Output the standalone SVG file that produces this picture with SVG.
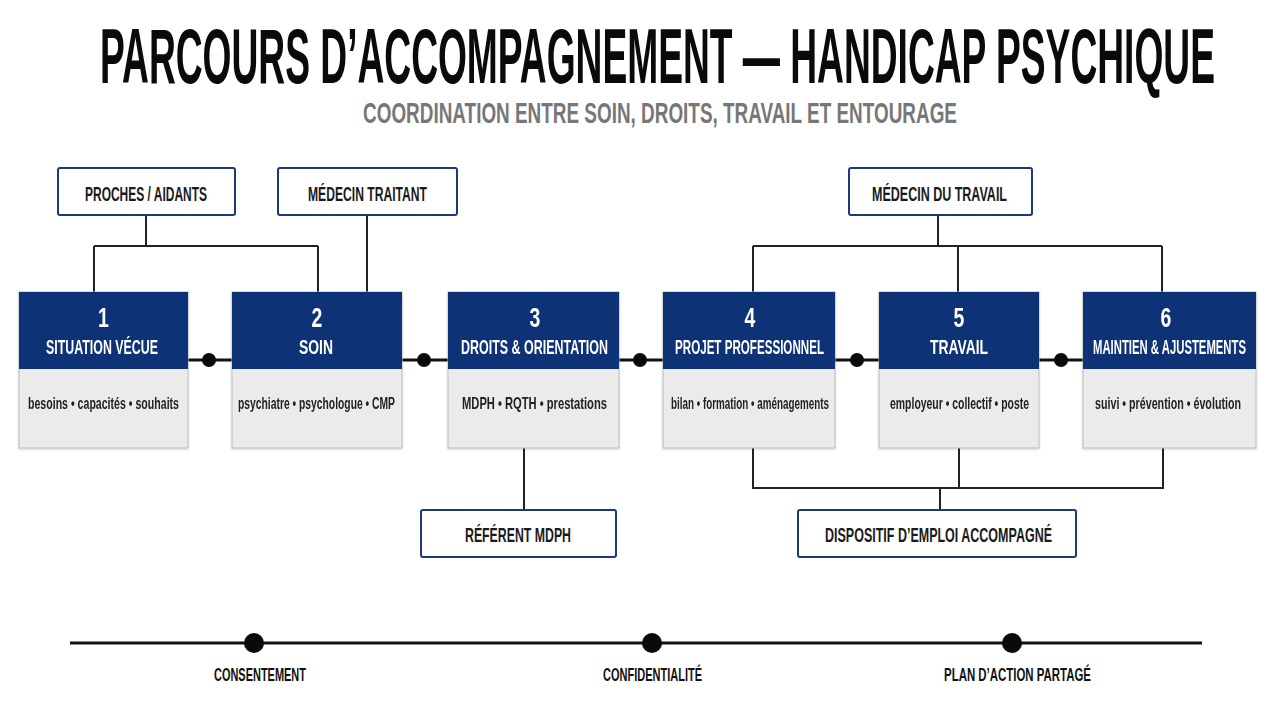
<svg xmlns="http://www.w3.org/2000/svg" width="1280" height="720" viewBox="0 0 1280 720">
<defs>
<filter id="sh" x="-10%" y="-10%" width="120%" height="130%">
<feDropShadow dx="0" dy="1" stdDeviation="1.2" flood-color="#000" flood-opacity="0.18"/>
</filter>
<style>
text{font-family:"Liberation Sans","DejaVu Sans",Arial,sans-serif;font-weight:bold;text-anchor:middle}
.title{font-size:78px;fill:#0a0a0a}
.sub{font-size:29px;fill:#777}
.lbl{font-size:21px;fill:#1a1a1a}
.num{font-size:27px;fill:#fff}
.ntitle{font-size:21px;fill:#fff}
.body{font-size:16px;fill:#222}
.tl{font-size:19px;fill:#111}
.box{fill:#fff;stroke:#1b3a7a;stroke-width:2}
.hdr{fill:#0c3276}
.bd{fill:#ebebeb;stroke:#bcbcbc;stroke-width:1}
.ln{fill:none;stroke:#222;stroke-width:2}
.mln{fill:none;stroke:#111;stroke-width:3}
.dot{fill:#0a0a0a}
</style>
</defs>
<rect width="1280" height="720" fill="#fff"/>

<g id="header">
<text class="title" transform="translate(657.5 83) scale(0.474 1)" textLength="2352" lengthAdjust="spacingAndGlyphs">PARCOURS D’ACCOMPAGNEMENT — HANDICAP PSYCHIQUE</text>
<text class="sub" transform="translate(660 123) scale(0.647 1)" textLength="918" lengthAdjust="spacingAndGlyphs">COORDINATION ENTRE SOIN, DROITS, TRAVAIL ET ENTOURAGE</text>
</g>

<g id="connectors">
<path class="ln" d="M146 215V246M94 246H318M94 246V292M318 246V292"/>
<path class="ln" d="M367 215V292"/>
<path class="ln" d="M938 215V246M753 246H1162M753 246V292M958 246V292M1162 246V292"/>
<path class="ln" d="M524 448V510"/>
<path class="ln" d="M753 448V488H1163V448M959 448V488M940 488V510"/>
<path class="mln" d="M188 360H232M402 360H448M619 360H663M835 360H879M1039 360H1083"/>
<circle class="dot" cx="209" cy="360" r="7"/>
<circle class="dot" cx="424" cy="360" r="7"/>
<circle class="dot" cx="640" cy="360" r="7"/>
<circle class="dot" cx="857" cy="360" r="7"/>
<circle class="dot" cx="1061" cy="360" r="7"/>
</g>

<g id="proches">
<rect class="box" x="58" y="168" width="177" height="47" rx="2"/>
<text class="lbl" transform="translate(146 201) scale(0.568 1)" textLength="214.8" lengthAdjust="spacingAndGlyphs">PROCHES / AIDANTS</text>
</g>
<g id="medecin-traitant">
<rect class="box" x="278" y="168" width="179" height="47" rx="2"/>
<text class="lbl" transform="translate(367.5 201) scale(0.573 1)" textLength="207.7" lengthAdjust="spacingAndGlyphs">MÉDECIN TRAITANT</text>
</g>
<g id="medecin-travail">
<rect class="box" x="849" y="168" width="183" height="47" rx="2"/>
<text class="lbl" transform="translate(939.5 201) scale(0.587 1)" textLength="230" lengthAdjust="spacingAndGlyphs">MÉDECIN DU TRAVAIL</text>
</g>

<g id="n1" filter="url(#sh)">
<rect class="bd" x="19" y="292" width="169" height="156"/>
<rect class="hdr" x="19" y="292" width="169" height="77"/>
<text class="num" transform="translate(103.5 327) scale(0.72 1)">1</text>
<text class="ntitle" transform="translate(102 354) scale(0.586 1)" textLength="191" lengthAdjust="spacingAndGlyphs">SITUATION VÉCUE</text>
<text class="body" transform="translate(103.5 409) scale(0.66 1)" textLength="228.8" lengthAdjust="spacingAndGlyphs">besoins • capacités • souhaits</text>
</g>
<g id="n2" filter="url(#sh)">
<rect class="bd" x="232" y="292" width="170" height="156"/>
<rect class="hdr" x="232" y="292" width="170" height="77"/>
<text class="num" transform="translate(317 327) scale(0.72 1)">2</text>
<text class="ntitle" transform="translate(316 354) scale(0.66 1)" textLength="51.5" lengthAdjust="spacingAndGlyphs">SOIN</text>
<text class="body" transform="translate(316.5 409) scale(0.646 1)" textLength="243" lengthAdjust="spacingAndGlyphs">psychiatre • psychologue • CMP</text>
</g>
<g id="n3" filter="url(#sh)">
<rect class="bd" x="448" y="292" width="171" height="156"/>
<rect class="hdr" x="448" y="292" width="171" height="77"/>
<text class="num" transform="translate(535 327) scale(0.72 1)">3</text>
<text class="ntitle" transform="translate(534.5 354) scale(0.586 1)" textLength="250.9" lengthAdjust="spacingAndGlyphs">DROITS &amp; ORIENTATION</text>
<text class="body" transform="translate(534.5 409) scale(0.70 1)" textLength="207" lengthAdjust="spacingAndGlyphs">MDPH • RQTH • prestations</text>
</g>
<g id="n4" filter="url(#sh)">
<rect class="bd" x="663" y="292" width="172" height="156"/>
<rect class="hdr" x="663" y="292" width="172" height="77"/>
<text class="num" transform="translate(750 327) scale(0.72 1)">4</text>
<text class="ntitle" transform="translate(749.5 354) scale(0.553 1)" textLength="269.4" lengthAdjust="spacingAndGlyphs">PROJET PROFESSIONNEL</text>
<text class="body" transform="translate(750 409) scale(0.616 1)" textLength="256.5" lengthAdjust="spacingAndGlyphs">bilan • formation • aménagements</text>
</g>
<g id="n5" filter="url(#sh)">
<rect class="bd" x="879" y="292" width="160" height="156"/>
<rect class="hdr" x="879" y="292" width="160" height="77"/>
<text class="num" transform="translate(959 327) scale(0.72 1)">5</text>
<text class="ntitle" transform="translate(959 354) scale(0.637 1)" textLength="91" lengthAdjust="spacingAndGlyphs">TRAVAIL</text>
<text class="body" transform="translate(959.5 409) scale(0.652 1)" textLength="213.2" lengthAdjust="spacingAndGlyphs">employeur • collectif • poste</text>
</g>
<g id="n6" filter="url(#sh)">
<rect class="bd" x="1083" y="292" width="173" height="156"/>
<rect class="hdr" x="1083" y="292" width="173" height="77"/>
<text class="num" transform="translate(1166 327) scale(0.72 1)">6</text>
<text class="ntitle" transform="translate(1169.5 354) scale(0.537 1)" textLength="284.9" lengthAdjust="spacingAndGlyphs">MAINTIEN &amp; AJUSTEMENTS</text>
<text class="body" transform="translate(1168 409) scale(0.67 1)" textLength="218" lengthAdjust="spacingAndGlyphs">suivi • prévention • évolution</text>
</g>

<g id="referent">
<rect class="box" x="421" y="510" width="195" height="47" rx="2"/>
<text class="lbl" transform="translate(518 542) scale(0.586 1)" textLength="180.9" lengthAdjust="spacingAndGlyphs">RÉFÉRENT MDPH</text>
</g>
<g id="dispositif">
<rect class="box" x="798" y="510" width="278" height="47" rx="2"/>
<text class="lbl" transform="translate(938.5 542) scale(0.591 1)" textLength="384" lengthAdjust="spacingAndGlyphs">DISPOSITIF D’EMPLOI ACCOMPAGNÉ</text>
</g>

<g id="timeline">
<path class="mln" d="M70 643H1202"/>
<circle class="dot" cx="254" cy="643" r="10"/>
<circle class="dot" cx="652" cy="643" r="10"/>
<circle class="dot" cx="1012" cy="643" r="10"/>
<text class="tl" transform="translate(260 681) scale(0.577 1)" textLength="159.4" lengthAdjust="spacingAndGlyphs">CONSENTEMENT</text>
<text class="tl" transform="translate(652.5 681) scale(0.579 1)" textLength="171" lengthAdjust="spacingAndGlyphs">CONFIDENTIALITÉ</text>
<text class="tl" transform="translate(1017.5 681) scale(0.595 1)" textLength="247" lengthAdjust="spacingAndGlyphs">PLAN D’ACTION PARTAGÉ</text>
</g>
</svg>
